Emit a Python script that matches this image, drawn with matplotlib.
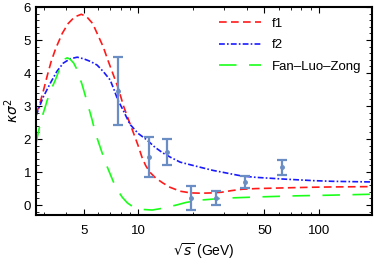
import matplotlib.pyplot as plt
import numpy as np

# STAR-like data points
energy = [7.7, 11.5, 14.5, 19.6, 27.0, 39.0, 62.4]
kappa_sigma2 = [3.46, 1.45, 1.6, 0.21, 0.21, 0.70, 1.15]
kappa_err = [1.03, 0.6, 0.4, 0.36, 0.21, 0.17, 0.23]

# curve f1
f1_x = [2.72, 2.85, 3.0, 3.15, 3.3, 3.5, 3.8, 4.1, 4.45, 4.85, 5.2, 5.6, 5.93,
        6.4, 6.8, 7.25, 7.75, 8.3, 8.8, 9.4, 10.0, 10.5, 11.0, 11.6, 12.5, 13.7,
        15.0, 17.1, 19.5, 22.3, 26.0, 29.0, 33.0, 37.6, 45.0, 63.0, 90.0, 120.0,
        200.0]
f1_y = [2.75, 3.05, 3.5, 3.95, 4.35, 4.75, 5.2, 5.5, 5.7, 5.78, 5.7, 5.5, 5.2,
        4.8, 4.39, 3.98, 3.55, 3.0, 2.62, 2.2, 1.8, 1.45, 1.2, 1.0, 0.82, 0.67,
        0.54, 0.42, 0.37, 0.36, 0.37, 0.39, 0.44, 0.48, 0.5, 0.52, 0.54, 0.55,
        0.56]

# curve f2
f2_x = [2.72, 2.85, 3.0, 3.27, 3.55, 3.85, 4.2, 4.6, 5.0, 5.45, 5.93, 6.4, 7.0,
        7.35, 7.7, 8.3, 9.0, 10.0, 11.2, 12.4, 13.7, 15.2, 17.1, 19.5, 22.3,
        26.0, 29.0, 33.0, 37.6, 45.0, 63.0, 80.0, 94.0, 120.0, 200.0]
f2_y = [2.7, 3.0, 3.3, 3.7, 4.05, 4.3, 4.43, 4.48, 4.43, 4.35, 4.24, 4.05, 3.79,
        3.5, 3.2, 2.85, 2.45, 2.17, 1.97, 1.75, 1.58, 1.44, 1.3, 1.22, 1.14,
        1.05, 1.0, 0.94, 0.88, 0.84, 0.79, 0.76, 0.74, 0.72, 0.7]

# Fan-Luo-Zong
flz_x = [2.72, 2.8, 2.88, 2.95, 3.05, 3.14, 3.3, 3.48, 3.65, 3.8, 3.95, 4.05,
         4.2, 4.4, 4.6, 4.9, 5.2, 5.55, 5.8, 6.3, 6.75, 7.3, 7.7, 8.16, 8.7,
         9.4, 10.5, 11.95, 13.2, 14.6, 16.5, 18.4, 22.0, 30.0, 48.0, 74.0,
         115.0, 200.0]
flz_y = [1.85, 2.2, 2.5, 2.7, 2.95, 3.18, 3.5, 3.79, 4.08, 4.3, 4.43, 4.46,
         4.42, 4.3, 4.09, 3.64, 3.15, 2.6, 2.18, 1.6, 1.15, 0.7, 0.45, 0.24,
         0.07, -0.06, -0.13, -0.15, -0.11, -0.06, 0.01, 0.08, 0.15, 0.21, 0.25,
         0.28, 0.3, 0.33]

plt.rcParams['font.family'] = ['Liberation Sans', 'DejaVu Sans']
plt.rcParams['mathtext.fontset'] = 'dejavusans'

fig = plt.figure(figsize=(3.74, 2.64), dpi=100)
ax = fig.add_axes([36/374, 1-215/264, (372-36)/374, (215-7)/264])

ax.plot(f1_x, f1_y, color='#ff1a1a', lw=1.2, dashes=(4.6, 2.6), label='f1')
ax.plot(f2_x, f2_y, color='#1a1aff', lw=1.2, dashes=(3.5, 1.3, 1.0, 1.3), label='f2')
ax.plot(flz_x, flz_y, color='#1aff1a', lw=1.2, dashes=(10.5, 7.5), label='Fan\u2013Luo\u2013Zong')

ax.errorbar(energy, kappa_sigma2, yerr=kappa_err, fmt='o', ms=2.5, color='#6a8ec4',
            ecolor='#6a8ec4', elinewidth=1.6, capsize=3.5, capthick=1.6, zorder=5)

ax.set_xscale('log')
ax.set_xlim(2.72, 197)
ax.set_ylim(-0.3, 6)
ax.set_xticks([5, 10, 50, 100])
ax.set_xticklabels(['5', '10', '50', '100'])
ax.set_yticks([0, 1, 2, 3, 4, 5, 6])
ax.set_yticks(np.arange(-0.2, 6.0, 0.2), minor=True)

for s in ax.spines.values():
    s.set_linewidth(1.5)
ax.tick_params(which='both', direction='in', top=True, right=True, labelsize=9.5,
               colors='black')
ax.tick_params(which='major', length=4, width=0.8)
ax.tick_params(which='minor', length=2, width=0.6)
ax.tick_params(axis='x', pad=7)

ax.set_ylabel(r'$\kappa\sigma^2$', fontsize=10, labelpad=2)
ax.set_xlabel(r'$\sqrt{s}$ (GeV)', fontsize=10, labelpad=3)

ax.legend(loc='upper right', frameon=False, fontsize=9.5, handlelength=3.2,
          bbox_to_anchor=(1.0, 1.0), labelspacing=0.7, borderaxespad=0.4)

fig.savefig('out.png', dpi=100)
